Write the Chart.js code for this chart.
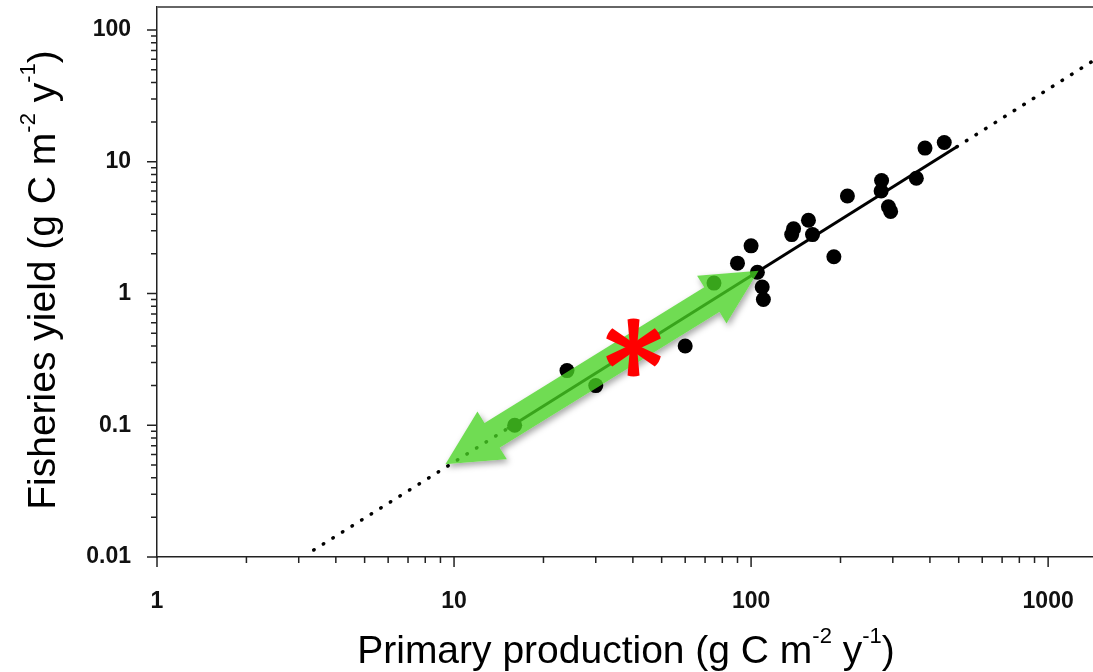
<!DOCTYPE html>
<html>
<head>
<meta charset="utf-8">
<script src="https://cdn.jsdelivr.net/npm/chart.js@4.4.1/dist/chart.umd.min.js"></script>
<style>
  html, body { margin: 0; padding: 0; background: #fff; }
  #wrap { width: 1093px; height: 672px; }
</style>
</head>
<body>
<div id="wrap"><canvas id="yieldChart"></canvas></div>
<script>
// observed systems: primary production vs fisheries yield
const prodX  = [16, 24, 30, 60, 75, 90, 100, 105, 109, 110, 139, 137, 156, 161, 190, 211, 275, 274, 290, 295, 360, 385, 447];
const yieldY = [0.10, 0.26, 0.20, 0.40, 1.2, 1.7, 2.3, 1.45, 1.12, 0.90, 3.1, 2.8, 3.6, 2.8, 1.9, 5.5, 7.2, 6.0, 4.55, 4.2, 7.5, 12.7, 14.0];

// fitted line, solid inside the data range, dotted outside
const fitSolidX = [15.1, 493];
const fitSolidY = [0.094, 13.0];
const fitLowX = [3.37, 15.1];
const fitLowY = [0.0113, 0.094];
const fitHighX = [493, 1416];
const fitHighY = [13.0, 58.3];

// green double arrow (tip to tip) and the red asterisk
const arrowX = [9.35, 106];
const arrowY = [0.0506, 1.49];
const starX = [40.2];
const starY = [0.39];

// axes
const xTickVals = [1, 10, 100, 1000];
const xTickLabels = ['1', '10', '100', '1000'];
const yTickVals = [0.01, 0.1, 1, 10, 100];
const yTickLabels = ['0.01', '0.1', '1', '10', '100'];

const xTitle = [{t: 'Primary production (g C m'}, {t: '-2', sup: true}, {t: ' y'}, {t: '-1', sup: true}, {t: ')'}];
const yTitle = [{t: 'Fisheries yield (g C m'}, {t: '-2', sup: true}, {t: ' y'}, {t: '-1', sup: true}, {t: ')'}];

const pts = (xs, ys) => xs.map((x, i) => ({x: x, y: ys[i]}));

function labelFor(vals, labels) {
    return function(value) {
        const i = vals.findIndex(v => Math.abs(v - value) / v < 1e-6);
        return i >= 0 ? labels[i] : '';
    };
}

function isNice(v) {
    const m = v / Math.pow(10, Math.floor(Math.log10(v) + 1e-9));
    return Math.abs(m - Math.round(m)) < 1e-6;
}

function drawRich(ctx, parts, cx, baseY) {
    const size = 39, supSize = 22, rise = 20;
    const fam = '"Liberation Sans", Arial, sans-serif';
    let total = 0;
    parts.forEach(p => {
        ctx.font = (p.sup ? supSize : size) + 'px ' + fam;
        p.w = ctx.measureText(p.t).width;
        total += p.w;
    });
    let x = cx - total / 2;
    ctx.textAlign = 'left';
    ctx.textBaseline = 'alphabetic';
    ctx.fillStyle = '#000';
    parts.forEach(p => {
        ctx.font = (p.sup ? supSize : size) + 'px ' + fam;
        ctx.fillText(p.t, x, p.sup ? baseY - rise : baseY);
        x += p.w;
    });
}

function arrowPath(ctx, p0, p1) {
    const dx = p1.x - p0.x, dy = p1.y - p0.y;
    const len = Math.hypot(dx, dy);
    const ux = dx / len, uy = dy / len;
    const nx = -uy, ny = ux;
    const w = 14.5, hw = 28, hl = 55;
    const a = (p, along, across) => [p.x + ux * along + nx * across, p.y + uy * along + ny * across];
    const poly = [
        [p0.x, p0.y],
        a(p0, hl, hw), a(p0, hl, w),
        a(p1, -hl, w), a(p1, -hl, hw),
        [p1.x, p1.y],
        a(p1, -hl, -hw), a(p1, -hl, -w),
        a(p0, hl, -w), a(p0, hl, -hw)
    ];
    ctx.moveTo(poly[0][0], poly[0][1]);
    for (let i = 1; i < poly.length; i++) ctx.lineTo(poly[i][0], poly[i][1]);
    ctx.closePath();
}

const decorations = {
    id: 'decorations',
    afterDatasetsDraw(chart) {
        const ctx = chart.ctx;
        const xs = chart.scales.x, ys = chart.scales.y;
        const p0 = {x: xs.getPixelForValue(arrowX[0]), y: ys.getPixelForValue(arrowY[0])};
        const p1 = {x: xs.getPixelForValue(arrowX[1]), y: ys.getPixelForValue(arrowY[1])};

        // soft shadow only outside the arrow
        ctx.save();
        ctx.beginPath();
        ctx.rect(0, 0, chart.width, chart.height);
        arrowPath(ctx, p0, p1);
        ctx.clip('evenodd');
        ctx.translate(-2000, 0);
        ctx.shadowColor = 'rgba(0,0,0,0.35)';
        ctx.shadowBlur = 6;
        ctx.shadowOffsetX = 2002;
        ctx.shadowOffsetY = 3;
        ctx.beginPath();
        arrowPath(ctx, p0, p1);
        ctx.fillStyle = '#000';
        ctx.fill();
        ctx.restore();

        ctx.save();
        ctx.beginPath();
        arrowPath(ctx, p0, p1);
        ctx.fillStyle = 'rgba(72,210,34,0.78)';
        ctx.fill();
        ctx.restore();

        // red asterisk
        const cx = xs.getPixelForValue(starX[0]), cy = ys.getPixelForValue(starY[0]);
        ctx.save();
        ctx.fillStyle = '#ff0000';
        const r = 28;
        for (let k = 0; k < 6; k++) {
            const ang = -Math.PI / 2 + k * Math.PI / 3;
            const ux = Math.cos(ang), uy = Math.sin(ang);
            const nx = -uy, ny = ux;
            ctx.beginPath();
            ctx.moveTo(cx + nx * 3.5, cy + ny * 3.5);
            ctx.lineTo(cx + ux * r + nx * 6, cy + uy * r + ny * 6);
            ctx.quadraticCurveTo(cx + ux * (r + 2), cy + uy * (r + 2), cx + ux * r - nx * 6, cy + uy * r - ny * 6);
            ctx.lineTo(cx - nx * 3.5, cy - ny * 3.5);
            ctx.closePath();
            ctx.fill();
        }
        ctx.beginPath();
        ctx.arc(cx, cy, 5, 0, Math.PI * 2);
        ctx.fill();
        ctx.restore();
    },
    afterDraw(chart) {
        const ctx = chart.ctx;
        const area = chart.chartArea;
        const xs = chart.scales.x, ys = chart.scales.y;
        ctx.save();
        // top frame line
        ctx.strokeStyle = '#666';
        ctx.lineWidth = 2;
        ctx.beginPath();
        ctx.moveTo(area.left, area.top);
        ctx.lineTo(area.right, area.top);
        ctx.stroke();

        // tick marks, long for decades, short for the rest
        ctx.strokeStyle = '#222';
        ctx.lineWidth = 1.5;
        ctx.beginPath();
        ys.ticks.forEach(t => {
            if (!isNice(t.value)) return;
            const len = yTickVals.some(v => Math.abs(v - t.value) / v < 1e-6) ? 10 : 6;
            const py = ys.getPixelForValue(t.value);
            ctx.moveTo(area.left - len, py);
            ctx.lineTo(area.left, py);
        });
        xs.ticks.forEach(t => {
            if (!isNice(t.value)) return;
            const len = xTickVals.some(v => Math.abs(v - t.value) / v < 1e-6) ? 10 : 6;
            const px = xs.getPixelForValue(t.value);
            ctx.moveTo(px, area.bottom);
            ctx.lineTo(px, area.bottom + len);
        });
        ctx.stroke();

        // axis titles with superscripts
        drawRich(ctx, xTitle, 626, 663);
        ctx.translate(55, 280);
        ctx.rotate(-Math.PI / 2);
        drawRich(ctx, yTitle, 0, 0);
        ctx.restore();
    }
};

const tickFont = {family: '"Liberation Sans", Arial, sans-serif', size: 23, weight: 'bold'};

new Chart(document.getElementById('yieldChart').getContext('2d'), {
    type: 'scatter',
    data: {
        datasets: [
            {
                type: 'line',
                data: pts(fitSolidX, fitSolidY),
                borderColor: '#000',
                borderWidth: 3,
                pointRadius: 0,
                order: 3
            },
            {
                type: 'line',
                data: pts(fitLowX, fitLowY),
                borderColor: '#000',
                borderWidth: 3.5,
                borderDash: [0.5, 10.8],
                borderCapStyle: 'round',
                pointRadius: 0,
                order: 3
            },
            {
                type: 'line',
                data: pts(fitHighX, fitHighY),
                borderColor: '#000',
                borderWidth: 3.5,
                borderDash: [0.5, 10.8],
                borderCapStyle: 'round',
                pointRadius: 0,
                order: 3
            },
            {
                data: pts(prodX, yieldY),
                backgroundColor: '#000',
                borderColor: '#000',
                pointRadius: 7.5,
                borderWidth: 0,
                order: 1
            }
        ]
    },
    options: {
        responsive: true,
        maintainAspectRatio: false,
        animation: false,
        layout: {autoPadding: false, padding: {top: 7, left: 0, right: 0, bottom: 0}},
        plugins: {legend: {display: false}, tooltip: {enabled: false}},
        scales: {
            x: {
                type: 'logarithmic',
                min: 1,
                max: 1416,
                grid: {display: false, drawTicks: false},
                border: {display: true, color: '#222', width: 1.5},
                ticks: {
                    autoSkip: false,
                    maxRotation: 0,
                    padding: 31,
                    color: '#111',
                    font: tickFont,
                    callback: labelFor(xTickVals, xTickLabels)
                },
                afterFit(scale) {
                    scale.height = 115;
                    scale.paddingLeft = 0;
                    scale.paddingRight = 0;
                }
            },
            y: {
                type: 'logarithmic',
                min: 0.01,
                max: 149.5,
                grid: {display: false, drawTicks: false},
                border: {display: true, color: '#222', width: 1.5},
                ticks: {
                    autoSkip: false,
                    padding: 26,
                    color: '#111',
                    font: tickFont,
                    callback: labelFor(yTickVals, yTickLabels)
                },
                afterFit(scale) {
                    scale.width = 157;
                    scale.paddingTop = 0;
                    scale.paddingBottom = 0;
                }
            }
        }
    },
    plugins: [decorations]
});
</script>
</body>
</html>
